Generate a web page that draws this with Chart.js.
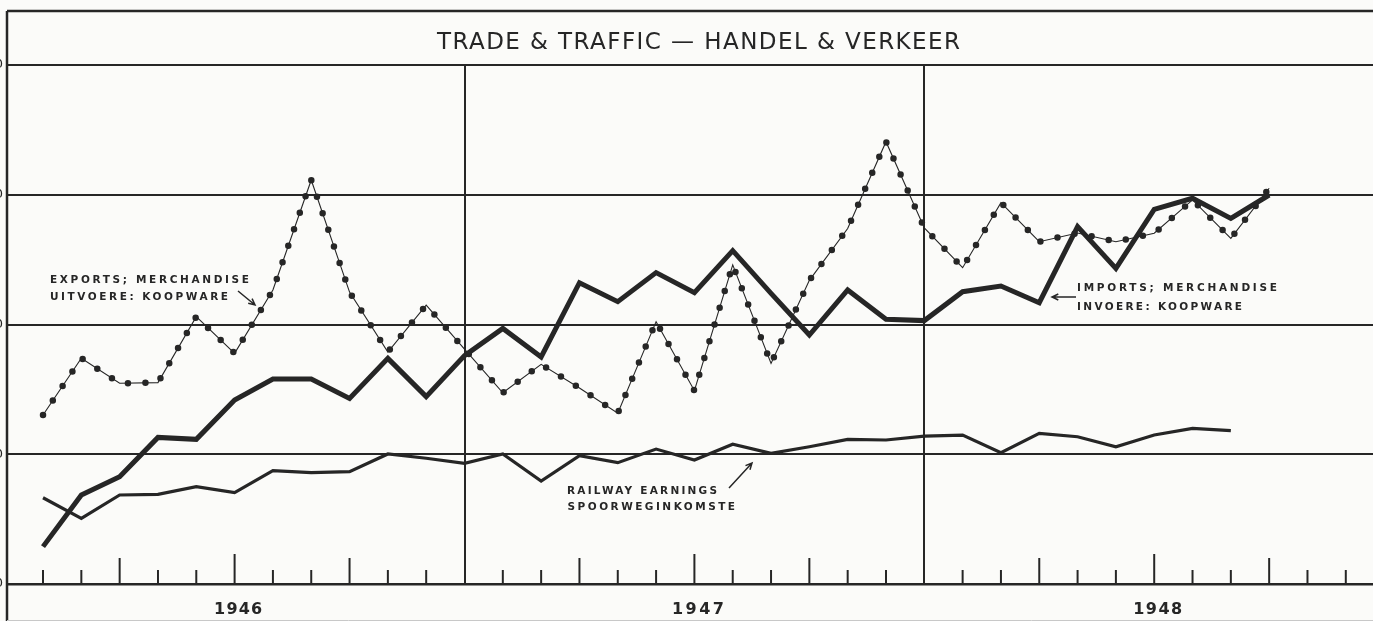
<!DOCTYPE html>
<html>
<head>
<meta charset="utf-8">
<title>Trade & Traffic — Handel & Verkeer</title>
<script src="https://cdn.jsdelivr.net/npm/chart.js@4.4.1/dist/chart.umd.min.js"></script>
<style>
  html, body { margin: 0; padding: 0; background: #fbfbf9; }
  canvas { display: block; }
</style>
</head>
<body>
<canvas id="c" width="1373" height="621"></canvas>
<script>
// ---- data (month index: 1 = Jan 1946 ... 33 = Sep 1948) ----
const months = [1,2,3,4,5,6,7,8,9,10,11,12,13,14,15,16,17,18,19,20,21,22,23,24,25,26,27,28,29,30,31,32,33];
const exportsValues = [130.3,174,154.7,155.2,206,177.8,226.6,311.4,225,178.8,215,181,147.4,169.3,151,131.6,202.2,149,246,170,234,274,340.9,274.4,243.8,293.9,263.8,270.5,263.8,270.3,296,266.4,305];
const importsValues = [28.8,68.6,82.7,113,111.5,141.8,158,158,143,173.9,144.4,176,197,175,232.2,217.6,240,224.5,256.9,224,191.9,226.6,204,203,225.3,229.7,216.8,275.4,243.3,288.8,297.3,281.8,299.8];
const railwayValues = [66.5,50.6,68.6,69.1,75,70.4,87.3,85.8,86.6,100.2,96.9,93,100.2,79.4,98.9,93.5,104,95.6,107.7,100.7,105.8,111.5,111,114,114.8,101.2,116.1,113.5,105.8,114.8,120,118.2];
const yearLabels = ['1946', '1947', '1948'];
const yearCenters = [6, 18, 30];
const yearBoundaries = [12, 24];
const yTicks = [0, 100, 200, 300, 400];
const titleText = 'TRADE & TRAFFIC — HANDEL & VERKEER';
const exportsLabel = ['EXPORTS; MERCHANDISE', 'UITVOERE: KOOPWARE'];
const importsLabel = ['IMPORTS; MERCHANDISE', 'INVOERE: KOOPWARE'];
const railwayLabel = ['RAILWAY EARNINGS', 'SPOORWEGINKOMSTE'];

const INK = '#262626';
const BG = '#fbfbf9';

function pts(vals) { return vals.map((v, i) => ({ x: months[i], y: v })); }

function fitText(ctx, text, x, y, width, font, align) {
  ctx.font = font;
  ctx.letterSpacing = '0px';
  const w0 = ctx.measureText(text).width;
  const n = [...text].length;
  const s = n > 1 ? (width - w0) / (n - 1) : 0;
  ctx.letterSpacing = s + 'px';
  ctx.textAlign = 'left';
  ctx.textBaseline = 'alphabetic';
  const left = align === 'center' ? x - width / 2 : x;
  ctx.fillText(text, left, y);
  ctx.letterSpacing = '0px';
}

function arrow(ctx, x1, y1, x2, y2, head) {
  ctx.beginPath();
  ctx.moveTo(x1, y1); ctx.lineTo(x2, y2);
  const a = Math.atan2(y2 - y1, x2 - x1);
  ctx.moveTo(x2 - head * Math.cos(a - 0.45), y2 - head * Math.sin(a - 0.45));
  ctx.lineTo(x2, y2);
  ctx.lineTo(x2 - head * Math.cos(a + 0.45), y2 - head * Math.sin(a + 0.45));
  ctx.stroke();
}

const decor = {
  id: 'decor',
  beforeDraw(chart) {
    const ctx = chart.ctx;
    ctx.save();
    ctx.fillStyle = BG;
    ctx.fillRect(0, 0, chart.width, chart.height);
    ctx.restore();
  },
  afterDraw(chart) {
    const ctx = chart.ctx;
    const xs = chart.scales.x;
    const area = chart.chartArea;
    ctx.save();
    ctx.strokeStyle = INK;
    ctx.fillStyle = INK;
    ctx.lineCap = 'butt';
    // frame
    ctx.lineWidth = 2.5;
    ctx.beginPath();
    ctx.moveTo(area.left, 11); ctx.lineTo(chart.width, 11);
    ctx.moveTo(area.left, 11); ctx.lineTo(area.left, chart.height);
    ctx.stroke();
    ctx.lineWidth = 1;
    ctx.strokeStyle = '#c8c8c8';
    ctx.beginPath();
    ctx.moveTo(area.left, 620.5); ctx.lineTo(chart.width, 620.5);
    ctx.stroke();
    ctx.strokeStyle = INK;
    // month ticks
    ctx.lineWidth = 2;
    for (let m = 1; m <= 35; m++) {
      if (yearBoundaries.includes(m)) continue;
      const x = xs.getPixelForValue(m);
      const h = (m % 6 === 0) ? 30 : (m % 3 === 0 ? 26 : 14);
      ctx.beginPath();
      ctx.moveTo(x, area.bottom); ctx.lineTo(x, area.bottom - h);
      ctx.stroke();
    }
    // title
    fitText(ctx, titleText, 698.5, 48.5, 523, '23px "DejaVu Sans"', 'center');
    // year labels
    yearLabels.forEach((t, i) => {
      const w = [48, 52, 49][i];
      fitText(ctx, t, xs.getPixelForValue(yearCenters[i]) + 3.5, 614, w, 'bold 16px "DejaVu Sans"', 'center');
    });
    // series labels
    const f = 'bold 10.5px "DejaVu Sans"';
    fitText(ctx, exportsLabel[0], 50, 283, 199, f, 'left');
    fitText(ctx, exportsLabel[1], 50, 299.5, 178, f, 'left');
    fitText(ctx, importsLabel[0], 1077, 291, 200, f, 'left');
    fitText(ctx, importsLabel[1], 1077, 309.5, 165, f, 'left');
    fitText(ctx, railwayLabel[0], 567, 493.5, 150, f, 'left');
    fitText(ctx, railwayLabel[1], 567.5, 510, 167.5, f, 'left');
    // arrows
    ctx.lineWidth = 1.5;
    arrow(ctx, 238, 291, 255, 305, 7);
    arrow(ctx, 1076, 297, 1052, 297, 7);
    arrow(ctx, 729, 488, 752, 463, 7);
    ctx.restore();
  }
};

new Chart(document.getElementById('c'), {
  type: 'line',
  data: {
    datasets: [
      { label: 'Imports', data: pts(importsValues), borderColor: INK, borderWidth: 5, pointRadius: 0, tension: 0, borderJoinStyle: 'miter' },
      { label: 'Railway earnings', data: pts(railwayValues), borderColor: INK, borderWidth: 3.2, pointRadius: 0, tension: 0 },
      { label: 'Exports (dots)', data: pts(exportsValues), borderColor: INK, borderWidth: 6.5, borderDash: [0, 17.5], borderCapStyle: 'round', borderJoinStyle: 'round', pointRadius: 0, tension: 0 },
      { label: 'Exports', data: pts(exportsValues), borderColor: INK, borderWidth: 1.1, pointRadius: 0, tension: 0 }
    ]
  },
  options: {
    responsive: false,
    animation: false,
    devicePixelRatio: 1,
    events: [],
    layout: { padding: { top: 65, left: 0, right: 0, bottom: 0 } },
    plugins: { legend: { display: false }, tooltip: { enabled: false }, title: { display: false } },
    scales: {
      x: {
        type: 'linear', min: 0.06, max: 35.71,
        afterBuildTicks: s => { s.ticks = yearBoundaries.map(v => ({ value: v })); },
        afterFit: s => { s.height = 37; },
        ticks: { display: false },
        grid: { color: INK, lineWidth: 2, drawTicks: false },
        border: { display: true, color: INK, width: 2.5 }
      },
      y: {
        min: 0, max: 400,
        afterBuildTicks: s => { s.ticks = yTicks.map(v => ({ value: v })); },
        afterFit: s => { s.width = 7; },
        ticks: { color: INK, padding: 4, font: { size: 13, family: 'DejaVu Sans' }, callback: v => String(v) },
        grid: { color: INK, lineWidth: 2, drawTicks: false },
        border: { display: false }
      }
    }
  },
  plugins: [decor]
});
</script>
</body>
</html>
